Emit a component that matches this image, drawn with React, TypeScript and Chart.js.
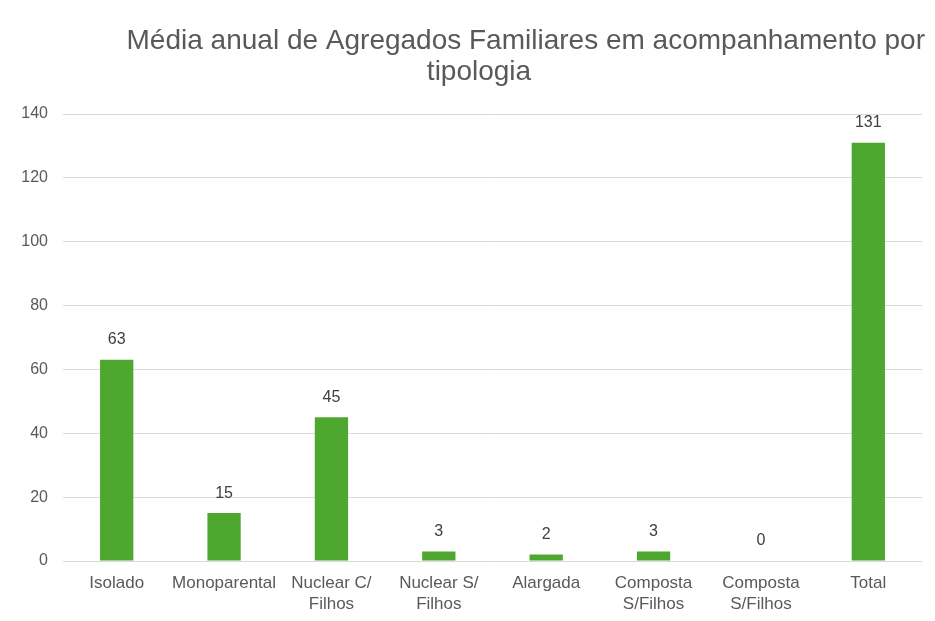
import React, { useEffect, useRef } from "react";
import { Chart, registerables } from "chart.js";

Chart.register(...registerables);

const TITLE_LINES = ["Média anual de Agregados Familiares em acompanhamento por", "tipologia"];
const CATEGORIES: (string | string[])[] = [
  "Isolado",
  "Monoparental",
  ["Nuclear C/", "Filhos"],
  ["Nuclear S/", "Filhos"],
  "Alargada",
  ["Composta", "S/Filhos"],
  ["Composta", "S/Filhos"],
  "Total",
];
const VALUES = [63, 15, 45, 3, 2, 3, 0, 131];
const Y_MIN = 0;
const Y_MAX = 140;
const Y_STEP = 20;

const FONT = "'Liberation Sans', Arial, Helvetica, sans-serif";

const framePlugin = {
  id: "frame",
  beforeDraw(chart: any) {
    const ctx = chart.ctx;
    ctx.save();
    ctx.fillStyle = "#ffffff";
    ctx.fillRect(0, 0, chart.width, chart.height);
    ctx.fillStyle = "#d6d6d6";
    ctx.fillRect(0, 0, chart.width, 2);
    ctx.fillRect(0, 0, 2, chart.height);
    ctx.restore();
  },
};

const titlePlugin = {
  id: "customTitle",
  afterDraw(chart: any) {
    const ctx = chart.ctx;
    ctx.save();
    ctx.fillStyle = "#595959";
    ctx.font = `28px ${FONT}`;
    ctx.textBaseline = "alphabetic";
    ctx.textAlign = "right";
    ctx.fillText(TITLE_LINES[0], 919, 43);
    ctx.textAlign = "center";
    ctx.fillText(TITLE_LINES[1], 473, 74);
    ctx.restore();
  },
};

const dataLabelPlugin = {
  id: "dataLabels",
  afterDatasetsDraw(chart: any) {
    const ctx = chart.ctx;
    const meta = chart.getDatasetMeta(0);
    const data = chart.data.datasets[0].data;
    ctx.save();
    ctx.fillStyle = "#404040";
    ctx.font = `16px ${FONT}`;
    ctx.textAlign = "center";
    ctx.textBaseline = "middle";
    meta.data.forEach((bar: any, i: number) => {
      ctx.fillText(String(data[i]), bar.x, bar.y - 20);
    });
    ctx.restore();
  },
};

export default function App() {
  const canvasRef = useRef<HTMLCanvasElement | null>(null);

  useEffect(() => {
    if (!canvasRef.current) return;
    const chart = new Chart(canvasRef.current, {
      type: "bar",
      data: {
        labels: CATEGORIES,
        datasets: [
          {
            data: VALUES,
            backgroundColor: "#4ea72e",
            borderWidth: 0,
            barPercentage: 0.31,
            categoryPercentage: 1,
          },
        ],
      },
      options: {
        responsive: true,
        maintainAspectRatio: false,
        animation: false,
        layout: { padding: { top: 108, right: 13, bottom: 0, left: 0 } },
        plugins: {
          legend: { display: false },
          title: { display: false },
          tooltip: { enabled: false },
        },
        scales: {
          x: {
            grid: { display: false, drawTicks: false },
            border: { display: false },
            ticks: {
              color: "#595959",
              font: { family: FONT, size: 17, lineHeight: 1.24 },
              padding: 12,
              maxRotation: 0,
              autoSkip: false,
            },
            afterFit(scale: any) {
              scale.height = 60;
            },
          },
          y: {
            min: Y_MIN,
            max: Y_MAX,
            grid: { color: "#d9d9d9", lineWidth: 1, drawTicks: false },
            border: { display: false },
            ticks: {
              stepSize: Y_STEP,
              color: "#595959",
              font: { family: FONT, size: 16 },
              padding: 15,
            },
            afterFit(scale: any) {
              scale.width = 57;
            },
          },
        },
      },
      plugins: [framePlugin, titlePlugin, dataLabelPlugin],
    });
    return () => chart.destroy();
  }, []);

  return (
    <div style={{ position: "relative", width: 919, height: 605 }}>
      <div style={{ position: "absolute", left: -2, top: -2, width: 929, height: 615 }}>
        <canvas ref={canvasRef} />
      </div>
    </div>
  );
}
